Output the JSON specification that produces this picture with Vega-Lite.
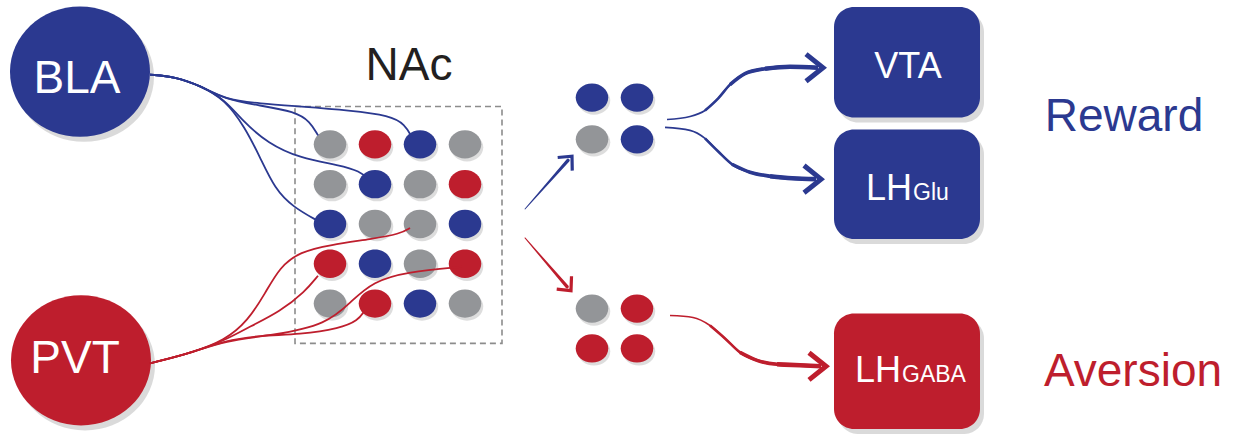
{
  "$schema": "https://vega.github.io/schema/vega-lite/v6.json",
  "width": 1239,
  "height": 434,
  "padding": 0,
  "autosize": {"type": "fit", "contains": "padding"},
  "background": "white",
  "config": {"view": {"stroke": null}, "axis": {"disable": true}},
  "datasets": {
    "frame": [{"x1": 295, "x2": 502, "y1": 107, "y2": 345}],
    "boxes": [
      {"name": "VTA", "x1": 834, "x2": 980, "y1": 7, "y2": 118, "c": "blue"},
      {"name": "LHGlu", "x1": 834, "x2": 980, "y1": 130, "y2": 240, "c": "blue"},
      {"name": "LHGABA", "x1": 834, "x2": 980, "y1": 315, "y2": 431, "c": "red"}
    ],
    "nodes": [
      {"name": "BLA", "x": 80, "y": 72, "c": "blue"},
      {"name": "PVT", "x": 81, "y": 362, "c": "red"}
    ],
    "dots": [
      {"x": 330, "y": 145, "c": "gray"}, {"x": 375, "y": 145, "c": "red"}, {"x": 420, "y": 145, "c": "blue"}, {"x": 465, "y": 145, "c": "gray"},
      {"x": 330, "y": 185, "c": "gray"}, {"x": 375, "y": 185, "c": "blue"}, {"x": 420, "y": 185, "c": "gray"}, {"x": 465, "y": 185, "c": "red"},
      {"x": 330, "y": 225, "c": "blue"}, {"x": 375, "y": 225, "c": "gray"}, {"x": 420, "y": 225, "c": "gray"}, {"x": 465, "y": 225, "c": "blue"},
      {"x": 330, "y": 265, "c": "red"}, {"x": 375, "y": 265, "c": "blue"}, {"x": 420, "y": 265, "c": "gray"}, {"x": 465, "y": 265, "c": "red"},
      {"x": 330, "y": 305, "c": "gray"}, {"x": 375, "y": 305, "c": "red"}, {"x": 420, "y": 305, "c": "blue"}, {"x": 465, "y": 305, "c": "gray"},
      {"x": 592, "y": 98, "c": "blue"}, {"x": 637, "y": 98, "c": "blue"},
      {"x": 592, "y": 140, "c": "gray"}, {"x": 637, "y": 140, "c": "blue"},
      {"x": 592, "y": 310, "c": "gray"}, {"x": 637, "y": 310, "c": "red"},
      {"x": 592, "y": 350, "c": "red"}, {"x": 637, "y": 350, "c": "red"}
    ],
    "links": [
      {"p": "B1", "o": 0, "x": 150, "y": 75, "c": "blue"}, {"p": "B1", "o": 1, "x": 175, "y": 77, "c": "blue"}, {"p": "B1", "o": 2, "x": 200, "y": 86, "c": "blue"}, {"p": "B1", "o": 3, "x": 225, "y": 100, "c": "blue"}, {"p": "B1", "o": 4, "x": 260, "y": 106, "c": "blue"}, {"p": "B1", "o": 5, "x": 295, "y": 112, "c": "blue"}, {"p": "B1", "o": 6, "x": 310, "y": 122, "c": "blue"}, {"p": "B1", "o": 7, "x": 318, "y": 136, "c": "blue"},
      {"p": "B2", "o": 0, "x": 150, "y": 75, "c": "blue"}, {"p": "B2", "o": 1, "x": 175, "y": 77, "c": "blue"}, {"p": "B2", "o": 2, "x": 200, "y": 86, "c": "blue"}, {"p": "B2", "o": 3, "x": 225, "y": 100, "c": "blue"}, {"p": "B2", "o": 4, "x": 260, "y": 104, "c": "blue"}, {"p": "B2", "o": 5, "x": 300, "y": 107, "c": "blue"}, {"p": "B2", "o": 6, "x": 350, "y": 111, "c": "blue"}, {"p": "B2", "o": 7, "x": 390, "y": 116, "c": "blue"}, {"p": "B2", "o": 8, "x": 405, "y": 125, "c": "blue"}, {"p": "B2", "o": 9, "x": 412, "y": 138, "c": "blue"},
      {"p": "B3", "o": 0, "x": 150, "y": 75, "c": "blue"}, {"p": "B3", "o": 1, "x": 175, "y": 77, "c": "blue"}, {"p": "B3", "o": 2, "x": 200, "y": 86, "c": "blue"}, {"p": "B3", "o": 3, "x": 225, "y": 100, "c": "blue"}, {"p": "B3", "o": 4, "x": 243, "y": 122, "c": "blue"}, {"p": "B3", "o": 5, "x": 268, "y": 144, "c": "blue"}, {"p": "B3", "o": 6, "x": 300, "y": 159, "c": "blue"}, {"p": "B3", "o": 7, "x": 340, "y": 166, "c": "blue"}, {"p": "B3", "o": 8, "x": 360, "y": 172, "c": "blue"}, {"p": "B3", "o": 9, "x": 368, "y": 180, "c": "blue"},
      {"p": "B4", "o": 0, "x": 150, "y": 75, "c": "blue"}, {"p": "B4", "o": 1, "x": 175, "y": 77, "c": "blue"}, {"p": "B4", "o": 2, "x": 200, "y": 86, "c": "blue"}, {"p": "B4", "o": 3, "x": 225, "y": 100, "c": "blue"}, {"p": "B4", "o": 4, "x": 245, "y": 128, "c": "blue"}, {"p": "B4", "o": 5, "x": 260, "y": 158, "c": "blue"}, {"p": "B4", "o": 6, "x": 275, "y": 190, "c": "blue"}, {"p": "B4", "o": 7, "x": 293, "y": 208, "c": "blue"}, {"p": "B4", "o": 8, "x": 318, "y": 222, "c": "blue"},
      {"p": "R1", "o": 0, "x": 150, "y": 365, "c": "red"}, {"p": "R1", "o": 1, "x": 190, "y": 355, "c": "red"}, {"p": "R1", "o": 2, "x": 225, "y": 342, "c": "red"}, {"p": "R1", "o": 3, "x": 248, "y": 322, "c": "red"}, {"p": "R1", "o": 4, "x": 265, "y": 295, "c": "red"}, {"p": "R1", "o": 5, "x": 280, "y": 268, "c": "red"}, {"p": "R1", "o": 6, "x": 300, "y": 253, "c": "red"}, {"p": "R1", "o": 7, "x": 330, "y": 246, "c": "red"}, {"p": "R1", "o": 8, "x": 372, "y": 240, "c": "red"}, {"p": "R1", "o": 9, "x": 400, "y": 235, "c": "red"}, {"p": "R1", "o": 10, "x": 410, "y": 229, "c": "red"},
      {"p": "R2", "o": 0, "x": 150, "y": 365, "c": "red"}, {"p": "R2", "o": 1, "x": 190, "y": 355, "c": "red"}, {"p": "R2", "o": 2, "x": 225, "y": 342, "c": "red"}, {"p": "R2", "o": 3, "x": 250, "y": 328, "c": "red"}, {"p": "R2", "o": 4, "x": 280, "y": 313, "c": "red"}, {"p": "R2", "o": 5, "x": 305, "y": 293, "c": "red"}, {"p": "R2", "o": 6, "x": 318, "y": 277, "c": "red"},
      {"p": "R3", "o": 0, "x": 150, "y": 365, "c": "red"}, {"p": "R3", "o": 1, "x": 190, "y": 355, "c": "red"}, {"p": "R3", "o": 2, "x": 225, "y": 342, "c": "red"}, {"p": "R3", "o": 3, "x": 260, "y": 337, "c": "red"}, {"p": "R3", "o": 4, "x": 300, "y": 336, "c": "red"}, {"p": "R3", "o": 5, "x": 340, "y": 330, "c": "red"}, {"p": "R3", "o": 6, "x": 358, "y": 322, "c": "red"}, {"p": "R3", "o": 7, "x": 364, "y": 313, "c": "red"},
      {"p": "R4", "o": 0, "x": 150, "y": 365, "c": "red"}, {"p": "R4", "o": 1, "x": 190, "y": 355, "c": "red"}, {"p": "R4", "o": 2, "x": 225, "y": 342, "c": "red"}, {"p": "R4", "o": 3, "x": 273, "y": 337, "c": "red"}, {"p": "R4", "o": 4, "x": 327, "y": 326, "c": "red"}, {"p": "R4", "o": 5, "x": 352, "y": 302, "c": "red"}, {"p": "R4", "o": 6, "x": 373, "y": 283, "c": "red"}, {"p": "R4", "o": 7, "x": 407, "y": 273, "c": "red"}, {"p": "R4", "o": 8, "x": 462, "y": 268, "c": "red"}
    ],
    "curves": [
      {"p": "T1", "o": 0, "x": 667, "y": 120, "c": "blue"}, {"p": "T1", "o": 1, "x": 690, "y": 117, "c": "blue"}, {"p": "T1", "o": 2, "x": 705, "y": 111, "c": "blue"}, {"p": "T1", "o": 3, "x": 718, "y": 99, "c": "blue"}, {"p": "T1", "o": 4, "x": 730, "y": 85, "c": "blue"}, {"p": "T1", "o": 5, "x": 745, "y": 74, "c": "blue"}, {"p": "T1", "o": 6, "x": 765, "y": 69, "c": "blue"}, {"p": "T1", "o": 7, "x": 790, "y": 67, "c": "blue"}, {"p": "T1", "o": 8, "x": 818, "y": 68, "c": "blue"},
      {"p": "T2", "o": 0, "x": 665, "y": 128, "c": "blue"}, {"p": "T2", "o": 1, "x": 690, "y": 131, "c": "blue"}, {"p": "T2", "o": 2, "x": 705, "y": 139, "c": "blue"}, {"p": "T2", "o": 3, "x": 718, "y": 152, "c": "blue"}, {"p": "T2", "o": 4, "x": 732, "y": 165, "c": "blue"}, {"p": "T2", "o": 5, "x": 750, "y": 173, "c": "blue"}, {"p": "T2", "o": 6, "x": 770, "y": 177, "c": "blue"}, {"p": "T2", "o": 7, "x": 792, "y": 179, "c": "blue"}, {"p": "T2", "o": 8, "x": 816, "y": 180, "c": "blue"},
      {"p": "T3", "o": 0, "x": 670, "y": 317, "c": "red"}, {"p": "T3", "o": 1, "x": 693, "y": 319, "c": "red"}, {"p": "T3", "o": 2, "x": 710, "y": 327, "c": "red"}, {"p": "T3", "o": 3, "x": 725, "y": 340, "c": "red"}, {"p": "T3", "o": 4, "x": 740, "y": 354, "c": "red"}, {"p": "T3", "o": 5, "x": 757, "y": 362, "c": "red"}, {"p": "T3", "o": 6, "x": 777, "y": 366, "c": "red"}, {"p": "T3", "o": 7, "x": 800, "y": 367, "c": "red"}, {"p": "T3", "o": 8, "x": 821, "y": 368, "c": "red"}
    ],
    "trails": [
      {"p": "S1", "o": 0, "x": 525, "y": 210, "c": "blue"}, {"p": "S1", "o": 4, "x": 568, "y": 161, "c": "blue"},
      {"p": "S2", "o": 0, "x": 525, "y": 239, "c": "red"}, {"p": "S2", "o": 4, "x": 567, "y": 288, "c": "red"}
    ],
    "heads": [
      {"x": 823, "y": 68, "c": "blue"},
      {"x": 821, "y": 180, "c": "blue"},
      {"x": 826, "y": 368, "c": "red"}
    ]
  },
  "layer": [
    {
      "data": {"name": "frame"},
      "mark": {"type": "rect", "fill": null, "stroke": "#8c8c8c", "strokeWidth": 1.6, "strokeDash": [6, 4]},
      "encoding": {
        "x": {"field": "x1", "type": "quantitative", "scale": {"domain": [0, 1239], "nice": false, "zero": false}, "axis": null},
        "x2": {"field": "x2"},
        "y": {"field": "y1", "type": "quantitative", "scale": {"domain": [0, 434], "nice": false, "zero": false, "reverse": true}, "axis": null},
        "y2": {"field": "y2"}
      }
    },
    {
      "data": {"name": "boxes"},
      "mark": {"type": "rect", "cornerRadius": 20, "fill": "#555555", "opacity": 0.22, "xOffset": 4, "yOffset": 5, "x2Offset": 4, "y2Offset": 5},
      "encoding": {
        "x": {"field": "x1", "type": "quantitative", "axis": null},
        "x2": {"field": "x2"},
        "y": {"field": "y1", "type": "quantitative", "axis": null},
        "y2": {"field": "y2"}
      }
    },
    {
      "data": {"name": "boxes"},
      "mark": {"type": "rect", "cornerRadius": 20},
      "encoding": {
        "x": {"field": "x1", "type": "quantitative", "axis": null},
        "x2": {"field": "x2"},
        "y": {"field": "y1", "type": "quantitative", "axis": null},
        "y2": {"field": "y2"},
        "color": {"field": "c", "type": "nominal", "scale": {"domain": ["blue", "red", "gray", "white", "dark"], "range": ["#2b3990", "#be1e2d", "#939598", "#ffffff", "#231f20"]}, "legend": null}
      }
    },
    {
      "data": {"name": "nodes"},
      "mark": {"type": "point", "shape": "M-1,0A1,0.93,0,1,0,1,0A1,0.93,0,1,0,-1,0Z", "size": 19600, "filled": true, "fill": "#555555", "opacity": 0.22, "xOffset": 4, "yOffset": 5, "strokeWidth": 0},
      "encoding": {
        "x": {"field": "x", "type": "quantitative", "axis": null},
        "y": {"field": "y", "type": "quantitative", "axis": null}
      }
    },
    {
      "data": {"name": "nodes"},
      "mark": {"type": "point", "shape": "M-1,0A1,0.93,0,1,0,1,0A1,0.93,0,1,0,-1,0Z", "size": 19600, "filled": true, "opacity": 1, "strokeWidth": 0},
      "encoding": {
        "x": {"field": "x", "type": "quantitative", "axis": null},
        "y": {"field": "y", "type": "quantitative", "axis": null},
        "color": {"field": "c", "type": "nominal", "legend": null}
      }
    },
    {
      "data": {"name": "dots"},
      "mark": {"type": "point", "shape": "M-1,0A1,0.87,0,1,0,1,0A1,0.87,0,1,0,-1,0Z", "size": 1060, "filled": true, "fill": "#555555", "opacity": 0.2, "xOffset": 2, "yOffset": 3, "strokeWidth": 0},
      "encoding": {
        "x": {"field": "x", "type": "quantitative", "axis": null},
        "y": {"field": "y", "type": "quantitative", "axis": null}
      }
    },
    {
      "data": {"name": "dots"},
      "mark": {"type": "point", "shape": "M-1,0A1,0.87,0,1,0,1,0A1,0.87,0,1,0,-1,0Z", "size": 1060, "filled": true, "opacity": 1, "strokeWidth": 0},
      "encoding": {
        "x": {"field": "x", "type": "quantitative", "axis": null},
        "y": {"field": "y", "type": "quantitative", "axis": null},
        "color": {"field": "c", "type": "nominal", "legend": null}
      }
    },
    {
      "data": {"name": "links"},
      "mark": {"type": "line", "interpolate": "basis", "strokeWidth": 1.8},
      "encoding": {
        "x": {"field": "x", "type": "quantitative", "axis": null},
        "y": {"field": "y", "type": "quantitative", "axis": null},
        "color": {"field": "c", "type": "nominal", "legend": null},
        "detail": {"field": "p"},
        "order": {"field": "o", "type": "quantitative"}
      }
    },
    {
      "data": {"name": "curves"},
      "mark": {"type": "line", "interpolate": "monotone", "strokeWidth": 1.6},
      "encoding": {
        "x": {"field": "x", "type": "quantitative", "axis": null},
        "y": {"field": "y", "type": "quantitative", "axis": null},
        "color": {"field": "c", "type": "nominal", "legend": null},
        "detail": {"field": "p"},
        "order": {"field": "o", "type": "quantitative"}
      }
    },
    {
      "data": {"name": "curves"},
      "transform": [{"filter": "datum.o >= 2"}],
      "mark": {"type": "line", "interpolate": "monotone", "strokeWidth": 2.6},
      "encoding": {
        "x": {"field": "x", "type": "quantitative", "axis": null},
        "y": {"field": "y", "type": "quantitative", "axis": null},
        "color": {"field": "c", "type": "nominal", "legend": null},
        "detail": {"field": "p"},
        "order": {"field": "o", "type": "quantitative"}
      }
    },
    {
      "data": {"name": "curves"},
      "transform": [{"filter": "datum.o >= 4"}],
      "mark": {"type": "line", "interpolate": "monotone", "strokeWidth": 3.6},
      "encoding": {
        "x": {"field": "x", "type": "quantitative", "axis": null},
        "y": {"field": "y", "type": "quantitative", "axis": null},
        "color": {"field": "c", "type": "nominal", "legend": null},
        "detail": {"field": "p"},
        "order": {"field": "o", "type": "quantitative"}
      }
    },
    {
      "data": {"name": "curves"},
      "transform": [{"filter": "datum.o >= 6"}],
      "mark": {"type": "line", "interpolate": "monotone", "strokeWidth": 4.6},
      "encoding": {
        "x": {"field": "x", "type": "quantitative", "axis": null},
        "y": {"field": "y", "type": "quantitative", "axis": null},
        "color": {"field": "c", "type": "nominal", "legend": null},
        "detail": {"field": "p"},
        "order": {"field": "o", "type": "quantitative"}
      }
    },
    {
      "data": {"name": "trails"},
      "mark": {"type": "trail"},
      "encoding": {
        "x": {"field": "x", "type": "quantitative", "axis": null},
        "y": {"field": "y", "type": "quantitative", "axis": null},
        "color": {"field": "c", "type": "nominal", "legend": null},
        "detail": {"field": "p"},
        "order": {"field": "o", "type": "quantitative"},
        "size": {"field": "o", "type": "quantitative", "scale": {"domain": [0, 4], "range": [0.9, 3.4]}, "legend": null}
      }
    },
    {
      "data": {"name": "heads"},
      "mark": {"type": "point", "shape": "M-1,-0.8L0,0L-1,0.8", "size": 1156, "filled": false, "strokeWidth": 5, "strokeJoin": "miter", "strokeCap": "butt", "opacity": 1},
      "encoding": {
        "x": {"field": "x", "type": "quantitative", "axis": null},
        "y": {"field": "y", "type": "quantitative", "axis": null},
        "color": {"field": "c", "type": "nominal", "legend": null}
      }
    },
    {
      "data": {"values": [{"x": 572, "y": 157, "c": "blue"}]},
      "mark": {"type": "point", "shape": "M-0.75,-0.7L0,0L-0.75,0.7", "size": 784, "filled": false, "strokeWidth": 3.2, "strokeJoin": "miter", "angle": 312, "opacity": 1},
      "encoding": {
        "x": {"field": "x", "type": "quantitative", "axis": null},
        "y": {"field": "y", "type": "quantitative", "axis": null},
        "color": {"field": "c", "type": "nominal", "legend": null}
      }
    },
    {
      "data": {"values": [{"x": 571, "y": 292, "c": "red"}]},
      "mark": {"type": "point", "shape": "M-0.75,-0.7L0,0L-0.75,0.7", "size": 784, "filled": false, "strokeWidth": 3.2, "strokeJoin": "miter", "angle": 49, "opacity": 1},
      "encoding": {
        "x": {"field": "x", "type": "quantitative", "axis": null},
        "y": {"field": "y", "type": "quantitative", "axis": null},
        "color": {"field": "c", "type": "nominal", "legend": null}
      }
    },
    {
      "data": {"values": [
        {"t": "BLA", "x": 77, "y": 93, "c": "white"},
        {"t": "PVT", "x": 75, "y": 375, "c": "white"},
        {"t": "NAc", "x": 409, "y": 80, "c": "dark"},
        {"t": "Reward", "x": 1124, "y": 132, "c": "blue"},
        {"t": "Aversion", "x": 1133, "y": 388, "c": "red"}
      ]},
      "mark": {"type": "text", "font": "Liberation Sans", "fontSize": 46, "align": "center", "baseline": "alphabetic"},
      "encoding": {
        "x": {"field": "x", "type": "quantitative", "axis": null},
        "y": {"field": "y", "type": "quantitative", "axis": null},
        "text": {"field": "t"},
        "color": {"field": "c", "type": "nominal", "legend": null}
      }
    },
    {
      "data": {"values": [{"t": "VTA", "x": 908, "y": 78, "c": "white"}]},
      "mark": {"type": "text", "font": "Liberation Sans", "fontSize": 36, "align": "center", "baseline": "alphabetic"},
      "encoding": {
        "x": {"field": "x", "type": "quantitative", "axis": null},
        "y": {"field": "y", "type": "quantitative", "axis": null},
        "text": {"field": "t"},
        "color": {"field": "c", "type": "nominal", "legend": null}
      }
    },
    {
      "data": {"values": [
        {"t": "LH", "x": 912, "y": 201, "c": "white"},
        {"t": "LH", "x": 901, "y": 384, "c": "white"}
      ]},
      "mark": {"type": "text", "font": "Liberation Sans", "fontSize": 36, "align": "right", "baseline": "alphabetic"},
      "encoding": {
        "x": {"field": "x", "type": "quantitative", "axis": null},
        "y": {"field": "y", "type": "quantitative", "axis": null},
        "text": {"field": "t"},
        "color": {"field": "c", "type": "nominal", "legend": null}
      }
    },
    {
      "data": {"values": [
        {"t": "Glu", "x": 913, "y": 201, "c": "white"},
        {"t": "GABA", "x": 902, "y": 384, "c": "white"}
      ]},
      "mark": {"type": "text", "font": "Liberation Sans", "fontSize": 23, "align": "left", "baseline": "alphabetic"},
      "encoding": {
        "x": {"field": "x", "type": "quantitative", "axis": null},
        "y": {"field": "y", "type": "quantitative", "axis": null},
        "text": {"field": "t"},
        "color": {"field": "c", "type": "nominal", "legend": null}
      }
    }
  ]
}
